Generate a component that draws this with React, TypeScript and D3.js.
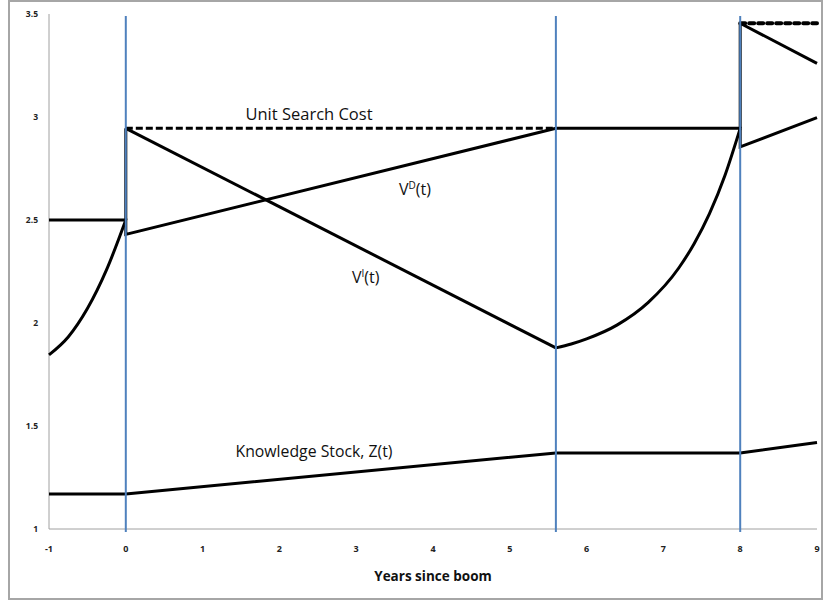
import React from "react";
import * as d3 from "d3";

type P = [number, number];

// Data (t = years since boom, value)
const xTicks = [-1, 0, 1, 2, 3, 4, 5, 6, 7, 8, 9];
const yTicks = [1, 1.5, 2, 2.5, 3, 3.5];
const yTickLabels = ["1", "1.5", "2", "2.5", "3", "3.5"];
const boomMarkers = [0, 5.6, 8];

const searchCostDashA: P[] = [[0, 2.945], [5.6, 2.945]];
const searchCostDashB: P[] = [[8, 3.455], [9, 3.455]];

// V^D(t) (piecewise linear, with jumps)
const vd: P[] = [[-1, 2.5], [0, 2.5], [0, 2.43], [5.6, 2.945], [8, 2.945], [8, 2.855], [9, 2.997]];

// V^I(t): segments separated by jumps
const viSegments: P[][] = [
  [[-1, 1.845], [-0.75, 1.932], [-0.5, 2.07], [-0.25, 2.259], [0, 2.5]],
  [[0, 2.945], [5.6, 1.879]],
  [[5.6, 1.879], [5.8, 1.898], [6.0, 1.923], [6.4, 1.991], [6.8, 2.099], [7.2, 2.267], [7.4, 2.385], [7.6, 2.531], [7.8, 2.715], [8, 2.945]],
  [[8, 3.455], [9, 3.26]],
];

const knowledge: P[] = [[-1, 1.17], [0, 1.17], [5.6, 1.369], [8, 1.369], [9, 1.42]];

const W = 825;
const H = 604;
const left = 49, right = 817, top = 14, bottom = 529;

export default function App() {
  const x = d3.scaleLinear().domain([-1, 9]).range([left, right]);
  const y = d3.scaleLinear().domain([1, 3.5]).range([bottom, top]);
  const lin = d3.line<P>().x(d => x(d[0])).y(d => y(d[1]));
  const smooth = d3.line<P>().x(d => x(d[0])).y(d => y(d[1])).curve(d3.curveMonotoneX);

  const segPath = (segs: P[][]) => {
    const parts: string[] = [];
    segs.forEach((s, i) => {
      parts.push(smooth(s) as string);
      if (i > 0) {
        const prev = segs[i - 1][segs[i - 1].length - 1];
        parts.push(lin([prev, s[0]]) as string);
      }
    });
    return parts;
  };

  const font = "'Open Sans', 'Noto Sans', sans-serif";
  const black = "#000";

  return (
    <svg width={W} height={H} style={{ position: "absolute", left: 0, top: 0, background: "#fff" }}>
      <rect x={9} y={1} width={813} height={598} fill="#fff" stroke="#a6a6a6" strokeWidth={2} />
      {/* axes */}
      <line x1={left} x2={left} y1={top} y2={bottom} stroke="#a0a0a0" strokeWidth={1} />
      <line x1={left} x2={right} y1={bottom} y2={bottom} stroke="#a0a0a0" strokeWidth={1} />
      {yTicks.map((t, i) => (
        <text key={t} x={38} y={y(t) + 3} textAnchor="end" fontFamily={font} fontSize={8.5} fontWeight="bold" fill="#222">
          {yTickLabels[i]}
        </text>
      ))}
      {xTicks.map(t => (
        <text key={t} x={x(t)} y={552} textAnchor="middle" fontFamily={font} fontSize={9} fontWeight="bold" fill="#222">
          {t}
        </text>
      ))}
      <text x={(left + right) / 2} y={581} textAnchor="middle" fontFamily={font} fontSize={13.5} fontWeight="bold" fill="#111">
        Years since boom
      </text>

      {/* series */}
      <path d={lin(knowledge) as string} fill="none" stroke={black} strokeWidth={3} />
      <path d={lin(vd) as string} fill="none" stroke={black} strokeWidth={3} />
      {segPath(viSegments).map((d, i) => (
        <path key={"vi" + i} d={d} fill="none" stroke={black} strokeWidth={3} />
      ))}
      <path d={lin(searchCostDashA) as string} fill="none" stroke={black} strokeWidth={3} strokeDasharray="7,3" />
      <path d={lin(searchCostDashB) as string} fill="none" stroke={black} strokeWidth={4} strokeDasharray="5,4" strokeLinecap="round" />

      {/* boom markers */}
      {boomMarkers.map(t => (
        <line key={t} x1={x(t)} x2={x(t)} y1={y(3.5) + 2} y2={bottom + 3} stroke="#4F81BD" strokeWidth={2} />
      ))}

      {/* annotations */}
      <text x={309} y={120} textAnchor="middle" fontFamily={font} fontSize={16.5} fill="#111">Unit Search Cost</text>
      <text x={399} y={195} fontFamily={font} fontSize={16} fill="#111">
        V<tspan dy={-6} fontSize={10}>D</tspan><tspan dy={6}>(t)</tspan>
      </text>
      <text x={352} y={283} fontFamily={font} fontSize={16} fill="#111">
        V<tspan dy={-6} fontSize={10}>I</tspan><tspan dy={6}>(t)</tspan>
      </text>
      <text x={314} y={457} textAnchor="middle" fontFamily={font} fontSize={15.8} fill="#111">Knowledge Stock, Z(t)</text>
    </svg>
  );
}
